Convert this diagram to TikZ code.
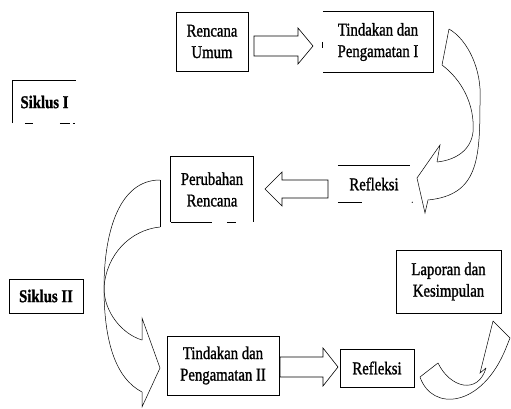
\documentclass[tikz,border=0pt]{standalone}
\usepackage{fontspec}
\setmainfont[FakeStretch=0.82,FakeBold=1.2]{Liberation Serif}
\usetikzlibrary{calc}
\begin{document}
\begin{tikzpicture}[x=1pt,y=-1pt,
  lbl/.style={align=center,inner sep=0pt,font=\fontsize{18}{21.5}\selectfont},
  box/.style={lbl,draw,line width=0.7pt},
  ln/.style={line width=0.7pt},
  blk/.style={draw,line width=0.6pt,fill=white,line join=miter},
  crv/.style={draw,line width=0.5pt}]
\useasboundingbox (0,0) rectangle (511,409);

% boxes
\node[box,minimum width=72pt,minimum height=59pt] (ru) at (212,41.5) {Rencana\\Umum};
\node[lbl,minimum width=110pt,minimum height=60pt] (t1) at (378,42) {Tindakan dan\\Pengamatan I};
\draw[ln] (t1.north west) -- (t1.north east) -- (t1.south east) -- (t1.south west);
\draw[ln] (t1.west) -- ($(t1.west)+(0,6)$);

\node[lbl,font=\fontsize{18}{21.5}\selectfont\bfseries,minimum width=63pt,minimum height=42pt] (s1) at (44.5,102) {Siklus I};
\draw[ln] (s1.south west) -- (s1.north west) -- (s1.north east);
\draw[ln] ($(s1.south west)+(12,0)$) -- ($(s1.south west)+(20,0)$);
\draw[ln] ($(s1.south west)+(47,0)$) -- ($(s1.south west)+(57,0)$);
\draw[ln] ($(s1.south west)+(60,0)$) -- ($(s1.south west)+(62,0)$);

\node[lbl,minimum width=72pt,minimum height=36pt] (r1) at (374,184) {Refleksi};
\draw[ln] (r1.north west) -- (r1.north east);
\draw[ln] (r1.south west) -- ($(r1.south west)+(24,0)$);
\fill ($(r1.south east)+(2,0)$) circle (0.6pt);

\node[lbl,minimum width=82pt,minimum height=65pt] (pr) at (212,189.5) {Perubahan\\Rencana};
\draw[ln] (pr.south west) -- (pr.north west) -- (pr.north east) -- (pr.south east);
\draw[ln] (pr.south west) -- ($(pr.south west)+(41,0)$);
\draw[ln] ($(pr.south west)+(56,0)$) -- ($(pr.south west)+(65,0)$);

\node[box,font=\fontsize{18}{21.5}\selectfont\bfseries,minimum width=74pt,minimum height=34pt] (s2) at (46,296) {Siklus II};
\node[box,minimum width=112pt,minimum height=59pt] (t2) at (223,365.5) {Tindakan dan\\Pengamatan II};
\node[box,minimum width=74pt,minimum height=38pt] (r2) at (377,368) {Refleksi};
\node[box,minimum width=105pt,minimum height=63pt] (lp) at (448.5,281.5) {Laporan dan\\Kesimpulan};

% block arrows
\draw[blk] (254,36) -- (298,36) -- (298,28) -- (313,46) -- (298,64) -- (298,56) -- (254,56) -- cycle;
\draw[blk] (328,180) -- (282,180) -- (282,172) -- (265,189) -- (282,206) -- (282,198) -- (328,198) -- cycle;
\draw[blk] (280,357) -- (323,357) -- (323,348) -- (338,367) -- (323,386) -- (323,377) -- (280,377) -- cycle;

% curved arrow 1
\draw[crv] (449,29) -- (442,65);
\draw[crv] (449,29) .. controls (468,40) and (482,70) .. (480,100) .. controls (480,160) and (478,195) .. (428,200);
\draw[crv] (442,65) .. controls (462,80) and (475,105) .. (473,132) .. controls (471,150) and (456,160) .. (437,162);
\draw[crv] (437,162) -- (440,145) -- (417,178) -- (425,213) -- (428,200);

% curved arrow 2
\draw[crv] (160,180) -- (160,227);
\draw[crv] (160,180) .. controls (120,180) and (104,230) .. (104,288) .. controls (104,340) and (115,378) .. (142,392);
\draw[crv] (160,227) .. controls (130,230) and (106,255) .. (104,288) .. controls (104,312) and (122,334) .. (142,340);
\draw[crv] (142,340) -- (142,318) -- (160,368) -- (142,407) -- (142,392);

% curved arrow 3
\draw[crv] (420,377) -- (438,363);
\draw[crv] (420,377) .. controls (432,412) and (482,408) .. (506,348);
\draw[crv] (438,363) .. controls (450,388) and (478,395) .. (486,368);
\draw[crv] (486,368) -- (480,373) -- (493,321) -- (510,338) -- (506,348);
\end{tikzpicture}
\end{document}
